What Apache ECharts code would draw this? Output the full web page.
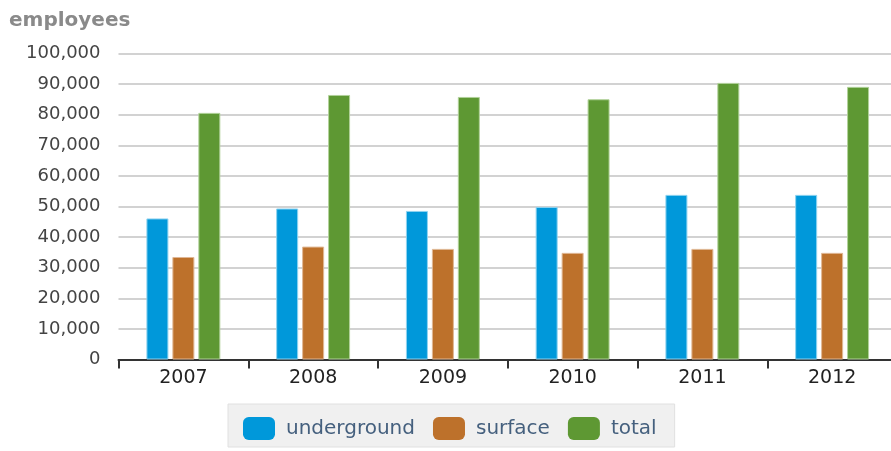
<!DOCTYPE html>
<html>
<head>
<meta charset="utf-8">
<title>employees</title>
<script src="https://cdn.jsdelivr.net/npm/echarts@6/dist/echarts.min.js"></script>
<style>
  html, body { margin: 0; padding: 0; background: #ffffff; overflow: hidden; }
  /* the plot runs a few pixels past the right edge of the window */
  #chart { width: 897px; height: 451px; }
</style>
</head>
<body>
<div id="chart"></div>
<script>
// Employees per year, split by work location
const years = ['2007', '2008', '2009', '2010', '2011', '2012'];
const underground = [46100, 49350, 48550, 49850, 53800, 53800];
const surface = [33500, 36900, 36150, 34850, 36150, 34850];
const total = [80600, 86450, 85800, 85050, 90400, 89100];

const FONT = 'DejaVu Sans';

function barSeries(name, data, color, edge) {
  return {
    name: name,
    type: 'bar',
    data: data,
    barWidth: 22,
    barGap: '18%',
    itemStyle: { color: color, borderColor: edge, borderWidth: 1 },
    emphasis: { disabled: true }
  };
}

const chart = echarts.init(document.getElementById('chart'), null, { renderer: 'canvas' });
chart.setOption({
  animation: false,
  title: {
    text: 'employees',
    left: 4,
    top: 6,
    textStyle: { fontFamily: FONT, fontSize: 20, fontWeight: 'bold', color: '#8a8a8a' }
  },
  grid: { left: 118.5, right: 0, top: 53.5, bottom: 91.5, containLabel: false },
  xAxis: {
    type: 'category',
    data: years,
    axisLine: { show: true, lineStyle: { color: '#333333', width: 2 } },
    axisTick: { show: true, length: 9, interval: 0, lineStyle: { color: '#333333', width: 2 } },
    axisLabel: { margin: 9, fontFamily: FONT, fontSize: 19, color: '#222222' },
    splitLine: { show: false }
  },
  yAxis: {
    type: 'value',
    min: 0,
    max: 100000,
    interval: 10000,
    axisLine: { show: false },
    axisTick: { show: false },
    axisLabel: {
      margin: 18,
      fontFamily: FONT,
      fontSize: 18,
      color: '#444444',
      formatter: function (v) { return v.toLocaleString('en-US'); }
    },
    splitLine: { show: true, lineStyle: { color: '#d2d2d2', width: 2 } }
  },
  legend: {
    bottom: 4,
    left: 228,
    itemWidth: 32,
    itemHeight: 23,
    itemGap: 18,
    padding: [13, 18, 7, 15],
    backgroundColor: '#f0f0f0',
    borderColor: '#e0e0e0',
    borderWidth: 1,
    icon: 'roundRect',
    itemStyle: { borderWidth: 0 },
    textStyle: { fontFamily: FONT, fontSize: 20, color: '#45607e', padding: [0, 0, 0, 6] },
    data: ['underground', 'surface', 'total']
  },
  series: [
    barSeries('underground', underground, '#0098da', '#8fd3f0'),
    barSeries('surface', surface, '#bd712b', '#e0b895'),
    barSeries('total', total, '#5e9833', '#b2d29b')
  ]
});
</script>
</body>
</html>
